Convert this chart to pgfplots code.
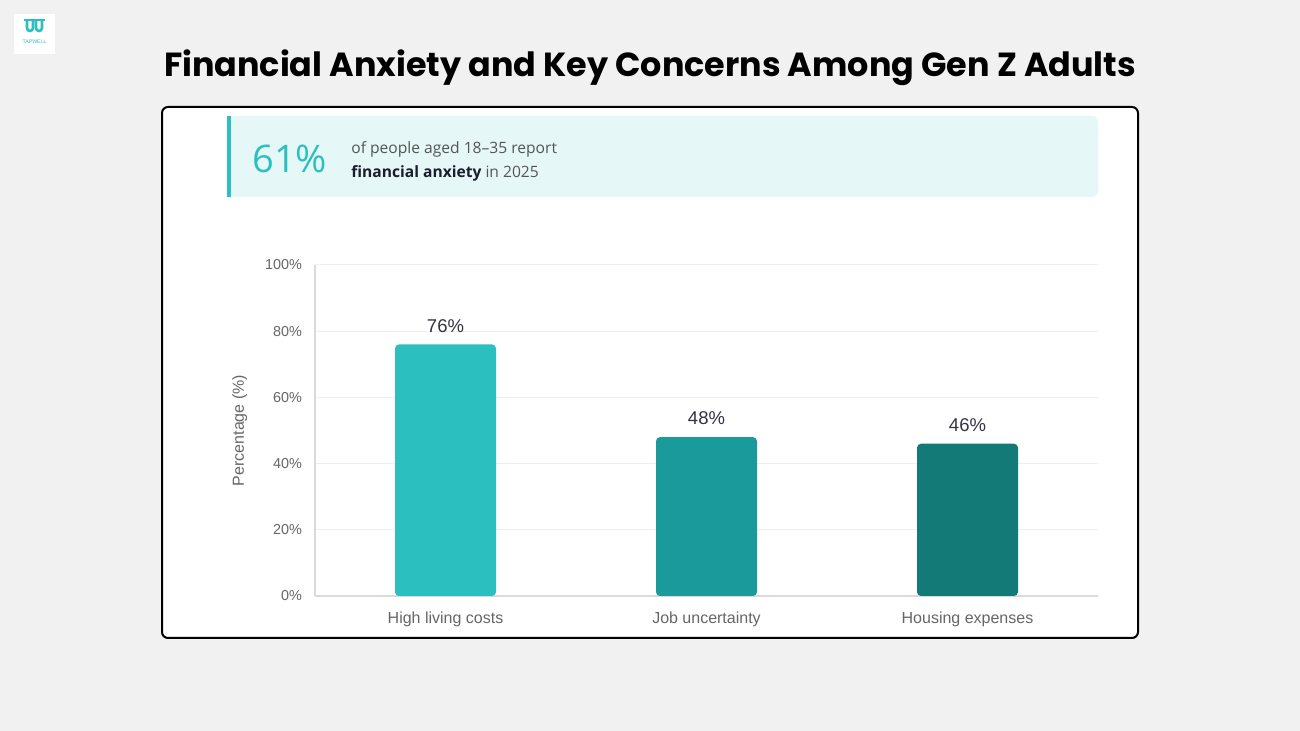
\documentclass[border=0pt]{standalone}
\usepackage{fontspec}
\setmainfont{Liberation Sans}
\newfontfamily\poppins{Poppins}
\newfontfamily\opensans{Open Sans}
\usepackage{pgfplots}
\pgfplotsset{compat=1.18}

\definecolor{pagebg}{HTML}{F1F1F1}
\definecolor{tealA}{HTML}{2BBFBF}
\definecolor{tealB}{HTML}{1A9A9A}
\definecolor{tealC}{HTML}{137A78}
\definecolor{calloutbg}{HTML}{E5F7F7}
\definecolor{ticktext}{HTML}{666666}
\definecolor{valtext}{HTML}{333344}
\definecolor{gridgray}{HTML}{EEEEEE}
\definecolor{axisgray}{HTML}{DADADA}
\definecolor{navy}{HTML}{1C1C2E}
\definecolor{subgray}{HTML}{555555}

\begin{document}
\begin{tikzpicture}[x=0.5pt,y=0.5pt]
% page
\fill[pagebg] (0,0) rectangle (1300,731);

% logo
\fill[white] (14,717) rectangle (55,677);
\draw[tealA, line width=1.3pt] (24,711) -- (45,711);
\draw[tealA, line width=1.3pt] (27,711) -- (27,703) arc(180:360:1.5pt) -- (33,711);
\draw[tealA, line width=1.3pt] (36,711) -- (36,703) arc(180:360:1.5pt) -- (42,711);
\node[text=tealA, font=\fontsize{2.6}{3}\selectfont] at (34.5,689) {TAPWELL};

% title
\node[font=\poppins\bfseries\fontsize{16.7}{19}\selectfont, text=black] at (650,663)
  {Financial Anxiety and Key Concerns Among Gen Z Adults};

% card
\draw[black, line width=1pt, fill=white, rounded corners=3pt] (162,624) rectangle (1138,93);

% callout
\fill[calloutbg, rounded corners=3pt] (227,615) rectangle (1098,534);
\fill[tealA] (227,615) rectangle (231,534);
\node[anchor=west, inner sep=0pt, text=tealA, font=\opensans\fontsize{19}{22}\selectfont] at (252,572) {61\%};
\node[anchor=west, inner sep=0pt, text=subgray, font=\opensans\fontsize{7.8}{9}\selectfont] at (351,582)
  {of people aged 18–35 report};
\node[anchor=west, inner sep=0pt, text=subgray, font=\opensans\fontsize{7.8}{9}\selectfont] at (351,558)
  {\textcolor{navy}{\bfseries financial anxiety} in 2025};

\begin{axis}[
    at={(157.5pt,67.5pt)}, anchor=south west,
    scale only axis, width=391.5pt, height=165.5pt,
    xmin=-0.5, xmax=2.5, ymin=0, ymax=100,
    ybar, bar width=50.5pt, bar shift=0pt,
    xtick={0,1,2},
    xticklabels={High living costs, Job uncertainty, Housing expenses},
    ytick={0,20,...,100},
    yticklabel={\pgfmathprintnumber{\tick}\%},
    axis x line*=bottom, axis y line*=left,
    axis line style={draw=axisgray, line width=0.75pt, -},
    major tick length=0pt,
    ymajorgrids, grid style={draw=gridgray, line width=0.5pt},
    tick label style={text=ticktext},
    yticklabel style={font=\fontsize{7.2}{8}\selectfont, xshift=-3pt},
    xticklabel style={font=\fontsize{8}{9}\selectfont, yshift=-4.5pt},
    ylabel={Percentage (\%)},
    ylabel style={at={(axis description cs:-0.096,0.5)}, anchor=center, text=ticktext, font=\fontsize{8}{9}\selectfont},
    nodes near coords={\pgfmathprintnumber{\pgfplotspointmeta}\%},
    nodes near coords style={text=valtext, font=\fontsize{9.25}{10}\selectfont, yshift=2.5pt},
    /pgf/number format/assume math mode=true,
    clip=false,
]
\addplot[fill=tealA, draw=none, bar shift=0pt, rounded corners=2pt] coordinates {(0,76)};
\addplot[fill=tealB, draw=none, bar shift=0pt, rounded corners=2pt] coordinates {(1,48)};
\addplot[fill=tealC, draw=none, bar shift=0pt, rounded corners=2pt] coordinates {(2,46)};
\end{axis}
\end{tikzpicture}
\end{document}
